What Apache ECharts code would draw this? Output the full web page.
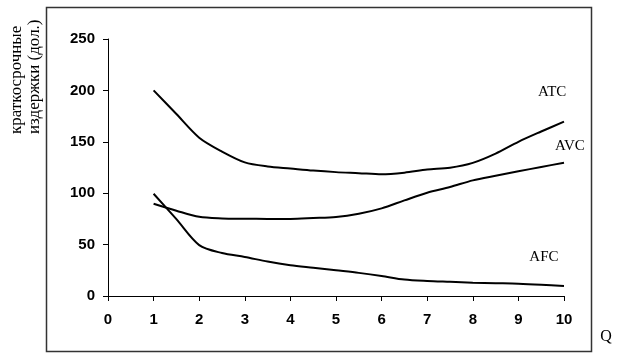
<!DOCTYPE html>
<html><head><meta charset="utf-8">
<script src="https://cdn.jsdelivr.net/npm/echarts@6/dist/echarts.min.js"></script>
<style>html,body{margin:0;padding:0;background:#fff}#c{width:626px;height:357px}</style>
</head><body><div id="c"></div>
<script>
var xTicks = [0,1,2,3,4,5,6,7,8,9,10];
var yTicks = [0,50,100,150,200,250];
var qValues = [1, 1.5, 2, 2.5, 3, 3.5, 4, 4.5, 5, 5.5, 6, 6.5, 7, 7.5, 8, 8.5, 9, 9.5, 10];
var atcV = [200, 177, 154, 140.5, 130, 126, 124, 122, 120.5, 119.5, 118.4, 120, 123, 124.8, 129.5, 138.5, 150, 160, 169.6];
var avcV = [89.8, 83, 77, 75.5, 75.2, 75, 75, 75.8, 76.8, 80, 85.2, 93, 100.5, 106, 112.5, 117, 121.3, 125.5, 129.7];
var afcV = [99.5, 74.7, 49.5, 41.8, 38, 33.5, 30, 27.5, 25, 22.5, 19.5, 16, 14.6, 13.8, 13, 12.5, 12, 11, 9.7];
var seriesNames = ['ATC', 'AVC', 'AFC'];
var labelAt = [[9.74, 198.4], [10.13, 145.9], [9.56, 37.9]];
var yTitle = ['краткосрочные', 'издержки (дол.)'];
var xTitle = 'Q';

function pairs(q, v) { return q.map(function (x, i) { return [x, v[i]]; }); }
var dataSets = [pairs(qValues, atcV), pairs(qValues, avcV), pairs(qValues, afcV)];

var chart = echarts.init(document.getElementById('c'), null, {renderer: 'canvas'});
var series = dataSets.map(function (d, i) {
  return {
    type: 'line', name: seriesNames[i], data: d, smooth: 0.3, showSymbol: false,
    lineStyle: {color: '#000', width: 2}, silent: true, animation: false
  };
});
var axisTxt = {color: '#000', fontFamily: 'Liberation Sans', fontWeight: 'bold', fontSize: 15};
var staticGraphic = [
  {type: 'rect', shape: {x: 46.5, y: 7.5, width: 545, height: 344}, style: {fill: 'none', stroke: '#333', lineWidth: 1.5}, silent: true},
  {type: 'text', x: 17, y: 134, rotation: Math.PI / 2, style: {text: yTitle[0], fill: '#000', font: '17px "Liberation Serif"', textAlign: 'left', textVerticalAlign: 'middle'}},
  {type: 'text', x: 35, y: 134, rotation: Math.PI / 2, style: {text: yTitle[1], fill: '#000', font: '17px "Liberation Serif"', textAlign: 'left', textVerticalAlign: 'middle'}},
  {type: 'text', x: 606, y: 337, style: {text: xTitle, fill: '#000', font: '16px "Liberation Serif"', textAlign: 'center', textVerticalAlign: 'middle'}}
];
chart.setOption({
  animation: false,
  backgroundColor: '#fff',
  grid: {left: 108, right: 62, top: 39, bottom: 61, containLabel: false},
  xAxis: {
    type: 'value', min: 0, max: 10, interval: 1,
    axisLine: {show: true, onZero: false, lineStyle: {color: '#000', width: 1}},
    axisTick: {show: true, length: 5, lineStyle: {color: '#000'}},
    splitLine: {show: false},
    axisLabel: Object.assign({margin: 16, formatter: function (v) { return xTicks.indexOf(v) >= 0 ? String(v) : ''; }}, axisTxt)
  },
  yAxis: {
    type: 'value', min: 0, max: 250, interval: 50,
    axisLine: {show: true, lineStyle: {color: '#000', width: 1}},
    axisTick: {show: true, length: 5, lineStyle: {color: '#000'}},
    splitLine: {show: false},
    axisLabel: Object.assign({margin: 13, formatter: function (v) { return yTicks.indexOf(v) >= 0 ? String(v) : ''; }}, axisTxt)
  },
  graphic: staticGraphic,
  series: series
});
var labelGraphic = seriesNames.map(function (n, i) {
  var p = chart.convertToPixel({gridIndex: 0}, labelAt[i]);
  return {type: 'text', x: p[0], y: p[1], silent: true,
    style: {text: n, fill: '#000', font: '15px "Liberation Serif"', textAlign: 'center', textVerticalAlign: 'middle'}};
});
chart.setOption({graphic: staticGraphic.concat(labelGraphic)}, {replaceMerge: ['graphic']});
</script></body></html>
